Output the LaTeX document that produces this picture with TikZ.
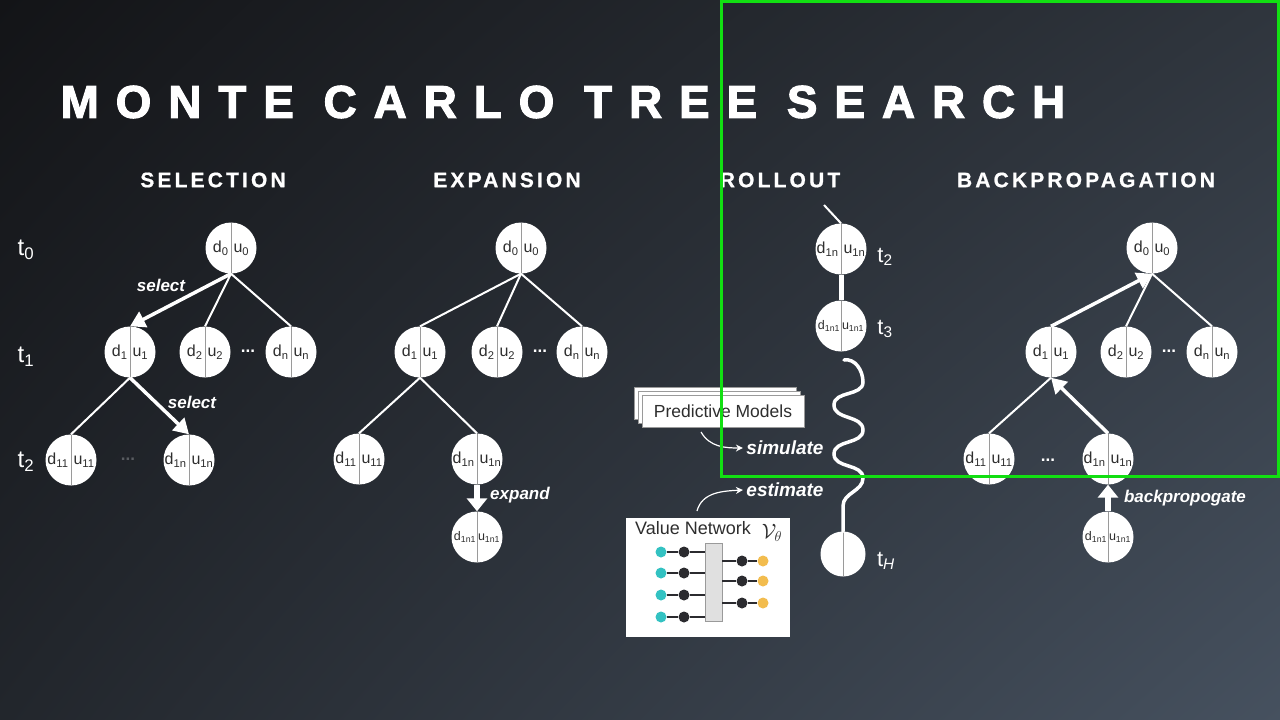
\documentclass[tikz,border=0pt]{standalone}
\usepackage{fontspec}
\setmainfont{Liberation Sans}
\newfontfamily\titlefont[LetterSpace=36.6,FakeBold=2.2]{Liberation Sans Bold}
\newfontfamily\headfont[LetterSpace=15,FakeBold=0.8]{Liberation Sans Bold}
\usetikzlibrary{arrows.meta,positioning,shadings}
\definecolor{bgtl}{HTML}{131417}
\definecolor{bgtr}{HTML}{2F353D}
\definecolor{bgbl}{HTML}{22262C}
\definecolor{bgbr}{HTML}{46515F}
\definecolor{nodetext}{HTML}{2E2E2E}
\definecolor{divgray}{HTML}{9A9A9A}
\definecolor{hilite}{HTML}{12E012}
\definecolor{nnteal}{HTML}{33C2C2}
\definecolor{nnyellow}{HTML}{F2BC4E}
\definecolor{nndark}{HTML}{2B2B2F}
\definecolor{nngray}{HTML}{E0E0E0}
\newcommand{\du}[2]{\makebox[23pt][r]{d\textsubscript{#1}\hspace{2.5pt}}\makebox[23pt][l]{\hspace{2.5pt}u\textsubscript{#2}}}
\newcommand{\dus}[2]{\makebox[23pt][r]{d\textsubscript{#1}\hspace{1pt}}\makebox[23pt][l]{\hspace{1pt}u\textsubscript{#2}}}
\tikzset{
  state/.style={circle, fill=white, minimum size=51pt, inner sep=0pt, text=nodetext,
    font=\fontsize{16}{16}\selectfont,
    path picture={\draw[divgray, line width=1pt] (path picture bounding box.north) -- (path picture bounding box.south);}},
  small state/.style={state, font=\fontsize{12.5}{12.5}\selectfont},
  edge/.style={white, line width=2pt},
  flow/.style={white, line width=3.5pt, -{Triangle[length=15pt,width=17pt]}},
  fatflow/.style={white, line width=5.5pt, -{Triangle[length=13pt,width=20pt]}},
  verb/.style={white, font=\fontsize{17}{17}\selectfont\bfseries\itshape},
  tlabel/.style={white, font=\fontsize{24}{24}\selectfont},
  dots/.style={white, font=\fontsize{17}{17}\selectfont\bfseries},
  stage/.style={white, font=\fontsize{21}{21}\selectfont\headfont},
  sheet/.style={draw=divgray, fill=white, line width=0.6pt, minimum width=162pt, minimum height=32pt},
  note/.style={white, line width=1.2pt, -{Stealth[length=7pt,width=7pt]}},
  neuron/.style={circle, minimum size=11pt, inner sep=0pt},
  wire/.style={nndark, line width=1.2pt}
}
\begin{document}
\begin{tikzpicture}[x=1pt, y=-1pt]
  \useasboundingbox (0,0) rectangle (1280,720);
  \shade[upper left=bgtl, upper right=bgtr, lower left=bgbl, lower right=bgbr] (0,0) rectangle (1280,720);

  % titles
  \node[white, anchor=west, font=\fontsize{46}{46}\selectfont\titlefont] (title) at (57,102) {MONTE CARLO TREE SEARCH};
  \node[stage] (hsel) at (213,180) {SELECTION};
  \node[stage] (hexp) at (507,180) {EXPANSION};
  \node[stage] (hroll) at (780,180) {ROLLOUT};
  \node[stage] (hback) at (1086,180) {BACKPROPAGATION};

  % time steps
  \node[tlabel] (t0) at (26,250) {t\textsubscript{0}};
  \node[tlabel] (t1) at (26,357) {t\textsubscript{1}};
  \node[tlabel] (t2) at (26,462) {t\textsubscript{2}};

  % selection
  \node[state] (s0) at (231,248) {\du{0}{0}};
  \node[state] (s1) at (130,352) {\du{1}{1}};
  \node[state] (s2) at (205,352) {\du{2}{2}};
  \node[state] (sn) at (291,352) {\du{n}{n}};
  \node[dots] (sdots) at (248,351) {...};
  \node[state] (s11) at (71,460) {\du{11}{11}};
  \node[state] (s1n) at (189,460) {\du{1n}{1n}};
  \node[dots, text=white!25!bgbl] (sdots2) at (128,459) {...};
  \draw[flow] (s0.south) -- (s1.north);
  \draw[edge] (s0.south) -- (s2.north);
  \draw[edge] (s0.south) -- (sn.north);
  \draw[edge] (s1.south) -- (s11.north);
  \draw[flow] (s1.south) -- (s1n.north);
  \node[verb] (sel1) at (161,285) {select};
  \node[verb] (sel2) at (192,402) {select};

  % expansion
  \node[state] (e0) at (521,248) {\du{0}{0}};
  \node[state] (e1) at (420,352) {\du{1}{1}};
  \node[state] (e2) at (497,352) {\du{2}{2}};
  \node[state] (en) at (582,352) {\du{n}{n}};
  \node[dots] (edots) at (540,351) {...};
  \node[state] (e11) at (359,459) {\du{11}{11}};
  \node[state] (e1n) at (477,459) {\du{1n}{1n}};
  \node[small state] (e1n1) at (477,537) {\dus{1n1}{1n1}};
  \draw[edge] (e0.south) -- (e1.north);
  \draw[edge] (e0.south) -- (e2.north);
  \draw[edge] (e0.south) -- (en.north);
  \draw[edge] (e1.south) -- (e11.north);
  \draw[edge] (e1.south) -- (e1n.north);
  \draw[fatflow] (e1n.south) -- (e1n1.north);
  \node[verb] (expl) at (520,495) {expand};

  % rollout
  \node[state] (r1) at (841,249) {\du{1n}{1n}};
  \node[small state] (r2) at (841,326) {\dus{1n1}{1n1}};
  \node[state, minimum size=45pt] (rH) at (843,554) {};
  \coordinate (rin) at (824,205);
  \coordinate (wavetop) at (844,360);
  \draw[edge] (rin) -- (r1.north);
  \draw[white, line width=5pt] (r1.south) -- (r2.north);
  \draw[white, line width=3.5pt, line cap=round] (wavetop) to[out=10,in=90] (863,382)
    to[out=-90,in=90] (834,405) to[out=-90,in=90] (863,430)
    to[out=-90,in=90] (834,454) to[out=-90,in=90] (863,478)
    to[out=-90,in=90] (843,506) -- (rH.north);
  \node[tlabel, font=\fontsize{22}{22}\selectfont] (tr2) at (885,257) {t\textsubscript{2}};
  \node[tlabel, font=\fontsize{22}{22}\selectfont] (tr3) at (885,329) {t\textsubscript{3}};
  \node[tlabel, font=\fontsize{22}{22}\selectfont] (trH) at (886,561) {t\textsubscript{\textit{H}}};

  % predictive models
  \node[sheet] (pm3) at (715,403) {};
  \node[sheet] (pm2) at (719,407) {};
  \node[sheet, text=nodetext, font=\fontsize{17.5}{17.5}\selectfont] (pm) at (723,411) {Predictive Models};
  \node[verb, font=\fontsize{19}{19}\selectfont\bfseries\itshape] (simlab) at (785,448) {simulate};
  \node[verb, font=\fontsize{19}{19}\selectfont\bfseries\itshape] (estlab) at (785,490) {estimate};
  \coordinate (simfrom) at (701,432);
  \coordinate (estfrom) at (697,511);
  \draw[note] (simfrom) to[out=-60,in=180] (simlab.west);
  \draw[note] (estfrom) to[out=75,in=183] (estlab.west);

  % value network
  \node[fill=white, minimum width=164pt, minimum height=119pt] (vnet) at (708,577) {};
  \node[text=nodetext, font=\fontsize{18}{18}\selectfont] (vntitle) at (693,528) {Value Network};
  \node[text=nodetext, font=\fontsize{21}{21}\selectfont] (vnsym) at (772,533) {$\mathcal{V}_\theta$};
  \node[draw=divgray, fill=nngray, line width=0.8pt, minimum width=17pt, minimum height=78pt, inner sep=0pt] (hid) at (713.5,582) {};
  \foreach \i/\y in {1/552,2/573,3/595,4/617} {
    \node[neuron, fill=nnteal] (in\i) at (661,\y) {};
    \node[neuron, fill=nndark] (ib\i) at (684,\y) {};
    \draw[wire] (in\i) -- (ib\i) -- (hid.west |- ib\i);
  }
  \foreach \i/\y in {1/561,2/581,3/603} {
    \node[neuron, fill=nndark] (ob\i) at (742,\y) {};
    \node[neuron, fill=nnyellow] (out\i) at (763,\y) {};
    \draw[wire] (hid.east |- ob\i) -- (ob\i) -- (out\i);
  }

  % backpropagation
  \node[state] (b0) at (1152,248) {\du{0}{0}};
  \node[state] (b1) at (1051,352) {\du{1}{1}};
  \node[state] (b2) at (1126,352) {\du{2}{2}};
  \node[state] (bn) at (1212,352) {\du{n}{n}};
  \node[dots] (bdots) at (1169,351) {...};
  \node[state] (b11) at (989,459) {\du{11}{11}};
  \node[state] (b1n) at (1108,459) {\du{1n}{1n}};
  \node[dots] (bdots2) at (1048,460) {...};
  \node[small state] (b1n1) at (1108,537) {\dus{1n1}{1n1}};
  \draw[flow] (b1.north) -- (b0.south);
  \draw[edge] (b2.north) -- (b0.south);
  \draw[edge] (bn.north) -- (b0.south);
  \draw[edge] (b11.north) -- (b1.south);
  \draw[flow] (b1n.north) -- (b1.south);
  \draw[fatflow] (b1n1.north) -- (b1n.south);
  \node[verb] (backl) at (1185,498) {backpropogate};

  % highlight frame
  \draw[hilite, line width=3pt] (721,1.5) rectangle (1278.5,476);
\end{tikzpicture}
\end{document}
